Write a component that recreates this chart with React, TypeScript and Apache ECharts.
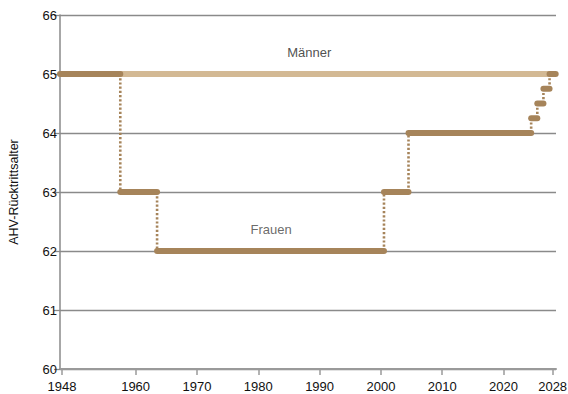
import React, { useEffect, useRef } from "react";
import * as echarts from "echarts";

// Women's AHV retirement age: year from which each age applies
const womenFromYear = [1948, 1958, 1964, 2001, 2005, 2025, 2026, 2027, 2028];
const womenAge = [65, 63, 62, 63, 64, 64.25, 64.5, 64.75, 65];
// Men's AHV retirement age
const menFromYear = [1948];
const menAge = [65];
const lastYear = 2028;

// Axis ticks
const xTickYears = [1948, 1960, 1970, 1980, 1990, 2000, 2010, 2020, 2028];
const yTicks = [60, 61, 62, 63, 64, 65, 66];

// Series annotations
const labelTexts = ["Männer", "Frauen"];
const labelYears = [1988.3, 1982.1];
const labelAges = [65.36, 62.36];
const labelColors = ["#222222", "#444444"];

const X_MIN = 1947.67;
const X_MAX = 2028.55;

const WOMEN_COLOR = "#a6845a";
const MEN_COLOR = "#d3b994";
const FONT = "'Liberation Sans', Arial, Helvetica, sans-serif";

function segments(from: number[], ages: number[]) {
  const segs: { x0: number; x1: number; y: number }[] = [];
  for (let i = 0; i < from.length; i++) {
    const x0 = i === 0 ? X_MIN : from[i] - 0.5;
    const x1 = i < from.length - 1 ? from[i + 1] - 0.5 : lastYear + 0.5;
    segs.push({ x0, x1, y: ages[i] });
  }
  return segs;
}

export default function App() {
  const ref = useRef<HTMLDivElement>(null);
  useEffect(() => {
    if (!ref.current) return;
    const chart = echarts.init(ref.current, undefined, { renderer: "svg" });

    const series: any[] = [];

    segments(menFromYear, menAge).forEach((s) => {
      series.push({
        type: "line",
        data: [
          [s.x0, s.y],
          [s.x1, s.y],
        ],
        symbol: "none",
        clip: false,
        z: 2,
        lineStyle: { color: MEN_COLOR, width: 6, cap: "butt" },
      });
    });

    // dotted vertical connectors for women
    for (let i = 1; i < womenFromYear.length; i++) {
      const x = womenFromYear[i] - 0.5;
      series.push({
        type: "line",
        data: [
          [x, womenAge[i - 1]],
          [x, womenAge[i]],
        ],
        symbol: "none",
        clip: false,
        z: 3,
        lineStyle: { color: WOMEN_COLOR, width: 2.6, type: [2.2, 2], cap: "butt" },
      });
    }

    segments(womenFromYear, womenAge).forEach((s) => {
      series.push({
        type: "line",
        data: [
          [s.x0, s.y],
          [s.x1, s.y],
        ],
        symbol: "none",
        clip: false,
        z: 4,
        lineStyle: { color: WOMEN_COLOR, width: 6, cap: "round" },
      });
    });

    series.push({
      type: "scatter",
      symbolSize: 0,
      z: 5,
      data: labelTexts.map((t, i) => ({
        value: [labelYears[i], labelAges[i]],
        name: t,
        label: { color: labelColors[i] },
      })),
      label: {
        show: true,
        position: "inside",
        formatter: (p: any) => p.name,
        fontFamily: FONT,
        fontSize: 13,
      },
    });

    chart.setOption({
      animation: false,
      backgroundColor: "#ffffff",
      textStyle: { fontFamily: FONT },
      grid: { left: 60, right: 12, top: 15, bottom: 25, containLabel: false, outerBoundsMode: "none" },
      xAxis: {
        type: "value",
        min: X_MIN,
        max: X_MAX,
        splitLine: { show: false },
        axisLine: { show: true, lineStyle: { color: "#9a9a9a", width: 2 } },
        axisTick: {
          show: true,
          length: 6,
          customValues: xTickYears,
          lineStyle: { color: "#9a9a9a", width: 1.5 },
        },
        axisLabel: {
          customValues: xTickYears,
          formatter: (v: number) => String(Math.round(v)),
          fontSize: 13,
          color: "#111",
          margin: 11,
          fontFamily: FONT,
        },
      },
      yAxis: {
        type: "value",
        min: yTicks[0],
        max: yTicks[yTicks.length - 1],
        interval: 1,
        name: "AHV-Rücktrittsalter",
        nameLocation: "middle",
        nameGap: 40,
        nameTextStyle: { fontSize: 12.5, color: "#111", fontFamily: FONT },
        axisLine: { show: true, lineStyle: { color: "#8a8a8a", width: 1.5 } },
        axisTick: { show: true, length: 6, lineStyle: { color: "#8a8a8a", width: 1.3 } },
        axisLabel: { fontSize: 13, color: "#111", margin: 3, fontFamily: FONT },
        splitLine: { show: true, lineStyle: { color: "#8a8a8a", width: 1.3 } },
      },
      series,
    });
    return () => chart.dispose();
  }, []);

  return (
    <div
      ref={ref}
      style={{ position: "fixed", left: 0, top: 0, width: 568, height: 394, background: "#fff" }}
    />
  );
}
